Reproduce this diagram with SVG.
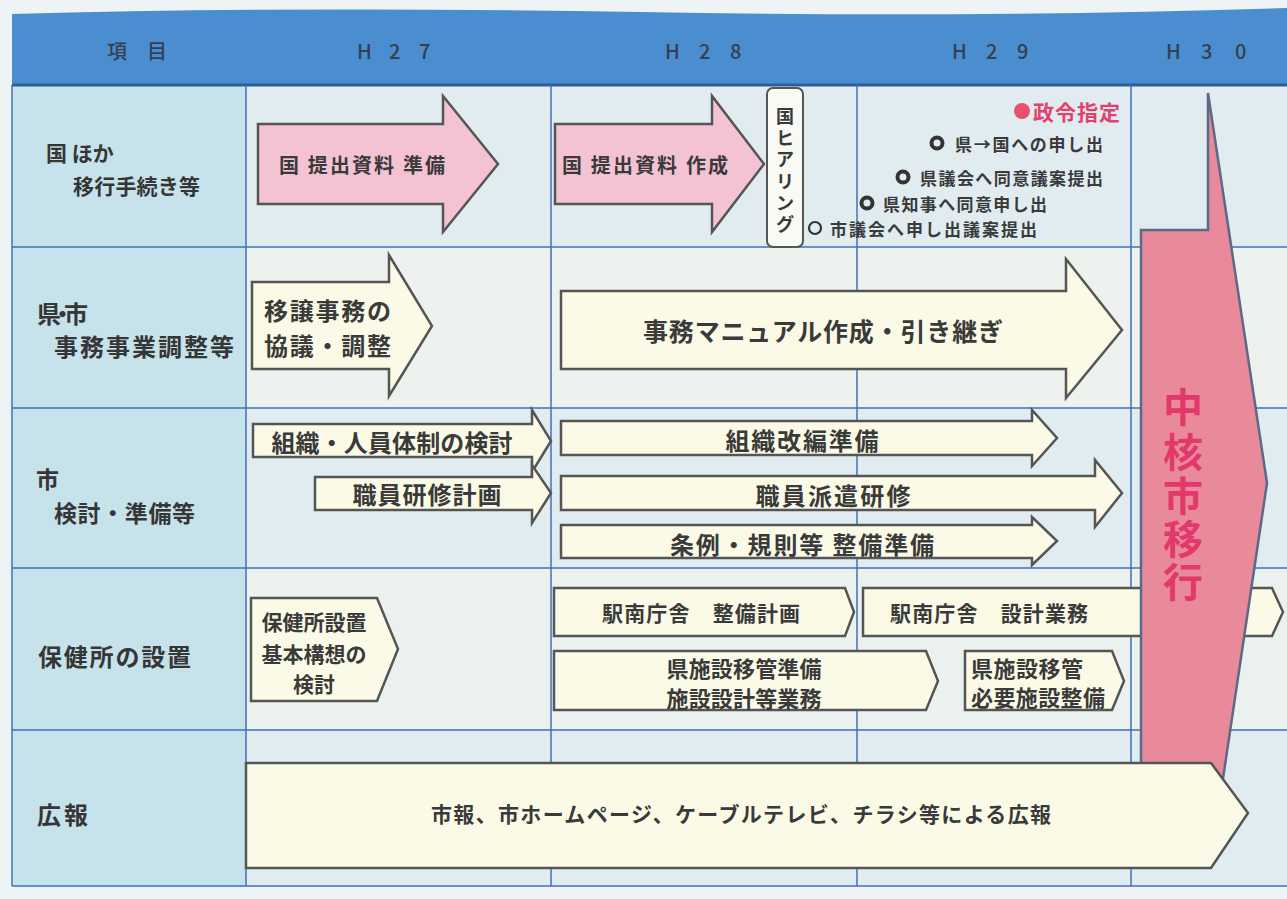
<svg xmlns="http://www.w3.org/2000/svg" width="1287" height="899" viewBox="0 0 1287 899">
<style>
 text{font-family:"Noto Sans CJK JP","Noto Sans",sans-serif;dominant-baseline:central}
 .lbl{font-weight:700;fill:#363636}
 .hd{font-weight:500;fill:#34404f;font-size:20px}
 .t{font-weight:700;fill:#3a3a3a}
 .grid{stroke:#3f72b8;stroke-width:1.5;fill:none}
 .pk{fill:#f3c3d4;stroke:#555;stroke-width:2.5;stroke-linejoin:miter}
 .cr{fill:#fbfae6;stroke:#555;stroke-width:2.5;stroke-linejoin:miter}
 .big{fill:#e98a9b;stroke:#5a6a88;stroke-width:2.5;stroke-linejoin:miter}
 .ring{fill:none;stroke:#333;stroke-width:4}
</style>
<rect x="0" y="0" width="1287" height="899" fill="#eef4f5"/>
<g id="table">
 <rect x="12" y="85" width="1275" height="801" fill="#e0ecf0"/>
 <rect x="246" y="247" width="1041" height="161" fill="#edf2ee"/>
 <rect x="246" y="568" width="1041" height="162" fill="#ebf1ee"/>
 <rect x="12" y="85" width="234" height="801" fill="#c6e2eb"/>
 <path d="M12,14 Q300,6 640,12 T1287,8 L1287,85 L12,85 Z" fill="#4a8ecf"/>
 <line x1="12" y1="85" x2="1287" y2="85" stroke="#2c5e9c" stroke-width="3"/>
 <path class="grid" d="M12,247H1287M12,408H1287M12,568H1287M12,730H1287M12,886H1287M12,85V886M246,85V886M551,85V886M857,85V886M1131,85V886"/>
</g>
<g id="header">
 <text class="hd" x="137" y="50" text-anchor="middle">項　目</text>
 <text class="hd" x="357 389 419" y="50">H27</text>
 <text class="hd" x="665 699 730" y="50">H28</text>
 <text class="hd" x="952 986 1017" y="50">H29</text>
 <text class="hd" x="1166 1201 1235" y="50">H30</text>
</g>
<g id="row-labels">
 <text class="lbl" x="46" y="152" font-size="21">国 ほか</text>
 <text class="lbl" x="73" y="185" font-size="21" textLength="127">移行手続き等</text>
 <text class="lbl" x="37" y="312" font-size="24" textLength="51">県・市</text>
 <text class="lbl" x="54" y="345" font-size="24" textLength="180">事務事業調整等</text>
 <text class="lbl" x="36" y="478" font-size="23">市</text>
 <text class="lbl" x="54" y="512" font-size="23" textLength="141">検討・準備等</text>
 <text class="lbl" x="38" y="655" font-size="24" textLength="153">保健所の設置</text>
 <text class="lbl" x="37" y="813" font-size="24" textLength="51">広報</text>
</g>
<g id="n-kuni-junbi">
 <polygon class="pk" points="258,124 443,124 443,96 498,164 443,232 443,204 258,204"/>
 <text class="t" x="362" y="164" font-size="20" text-anchor="middle" textLength="166">国 提出資料 準備</text>
</g>
<g id="n-kuni-sakusei">
 <polygon class="pk" points="555,124 712,124 712,96 764,164 712,232 712,204 555,204"/>
 <text class="t" x="645" y="164" font-size="20" text-anchor="middle" textLength="166">国 提出資料 作成</text>
</g>
<g id="n-hearing">
 <rect x="767" y="88" width="36" height="159" rx="6" fill="#fafaf4" stroke="#555" stroke-width="2"/>
 <text class="t" font-size="18" text-anchor="middle" x="785 785 785 785 785 785" y="115 137 158 180 202 223">国ヒアリング</text>
</g>
<g id="n-steps">
 <circle cx="1022" cy="111" r="8" fill="#e8506e"/>
 <text x="1033" y="111" font-size="21" font-weight="700" fill="#e3406b" textLength="87">政令指定</text>
 <circle class="ring" cx="937" cy="143" r="5.5"/>
 <text class="t" x="955" y="143" font-size="17" textLength="148">県→国への申し出</text>
 <circle class="ring" cx="903" cy="177" r="5.5"/>
 <text class="t" x="920" y="177" font-size="17" textLength="183">県議会へ同意議案提出</text>
 <circle class="ring" cx="867" cy="203" r="5.5" stroke="#555"/>
 <text class="t" x="883" y="203" font-size="17" textLength="164">県知事へ同意申し出</text>
 <circle cx="815" cy="228" r="6" fill="none" stroke="#333" stroke-width="2.2"/>
 <text class="t" x="830" y="228" font-size="17" textLength="207">市議会へ申し出議案提出</text>
</g>
<g id="n-joto">
 <polygon class="cr" points="252,282 389,282 389,255 432,326 389,396 389,369 252,369"/>
 <text class="t" x="264" y="309" font-size="24" textLength="127">移譲事務の</text>
 <text class="t" x="264" y="344" font-size="24" textLength="127">協議・調整</text>
</g>
<g id="n-manual">
 <polygon class="cr" points="561,291 1066,291 1066,259 1122,330 1066,398 1066,369 561,369"/>
 <text class="t" x="823" y="330" font-size="25" text-anchor="middle" textLength="360">事務マニュアル作成・引き継ぎ</text>
</g>
<g id="n-soshiki-kento">
 <polygon class="cr" points="253,424 532,424 532,410 551,441 532,472 532,457 253,457"/>
 <text class="t" x="392" y="441" font-size="24" text-anchor="middle" textLength="241">組織・人員体制の検討</text>
</g>
<g id="n-kenshu-keikaku">
 <polygon class="cr" points="315,477 532,477 532,465 551,493 532,523 532,510 315,510"/>
 <text class="t" x="427" y="493" font-size="24" text-anchor="middle" textLength="149">職員研修計画</text>
</g>
<g id="n-soshiki-kaihen">
 <polygon class="cr" points="561,421 1032,421 1032,410 1057,438 1032,466 1032,455 561,455"/>
 <text class="t" x="802" y="439" font-size="24" text-anchor="middle" textLength="153">組織改編準備</text>
</g>
<g id="n-haken">
 <polygon class="cr" points="561,476 1095,476 1095,460 1122,493 1095,527 1095,510 561,510"/>
 <text class="t" x="833" y="494" font-size="24" text-anchor="middle" textLength="155">職員派遣研修</text>
</g>
<g id="n-jorei">
 <polygon class="cr" points="561,525 1032,525 1032,517 1057,541 1032,565 1032,558 561,558"/>
 <text class="t" x="802" y="543" font-size="24" text-anchor="middle" textLength="264">条例・規則等 整備準備</text>
</g>
<g id="n-hokenjo">
 <polygon class="cr" points="251,598 377,598 398,649 377,701 251,701"/>
 <text class="t" x="314" y="621" font-size="21" text-anchor="middle">保健所設置</text>
 <text class="t" x="314" y="653" font-size="21" text-anchor="middle">基本構想の</text>
 <text class="t" x="314" y="683" font-size="21" text-anchor="middle">検討</text>
</g>
<g id="n-ekinami-seibi">
 <polygon class="cr" points="554,588 845,588 854,612 845,636 554,636"/>
 <text class="t" x="701" y="612" font-size="21" text-anchor="middle" textLength="198">駅南庁舎　整備計画</text>
</g>
<g id="n-ekinami-sekkei">
 <polygon class="cr" points="863,588 1272,588 1283,612 1272,636 863,636"/>
 <text class="t" x="989" y="612" font-size="21" text-anchor="middle" textLength="198">駅南庁舎　設計業務</text>
</g>
<g id="n-iko-junbi">
 <polygon class="cr" points="554,651 926,651 938,681 926,710 554,710"/>
 <text class="t" x="744" y="667" font-size="22" text-anchor="middle" textLength="155">県施設移管準備</text>
 <text class="t" x="744" y="697" font-size="22" text-anchor="middle" textLength="155">施設設計等業務</text>
</g>
<g id="n-iko-seibi">
 <polygon class="cr" points="965,651 1112,651 1124,681 1112,710 965,710"/>
 <text class="t" x="971" y="667" font-size="22" textLength="112">県施設移管</text>
 <text class="t" x="971" y="696" font-size="22" textLength="134">必要施設整備</text>
</g>
<g id="n-chukakushi">
 <path class="big" d="M1141,230 H1208 V93 L1267,483 L1210,866 H1141 Z"/>
 <text font-size="40" font-weight="700" fill="#e2386a" text-anchor="middle" x="1183 1183 1183 1183 1183" y="405 450 494 537 580">中核市移行</text>
</g>
<g id="n-koho">
 <polygon class="cr" points="246,763 1211,763 1248,813 1211,868 246,868"/>
 <text class="t" x="741" y="813" font-size="21" text-anchor="middle" textLength="620">市報、市ホームページ、ケーブルテレビ、チラシ等による広報</text>
</g>
</svg>
